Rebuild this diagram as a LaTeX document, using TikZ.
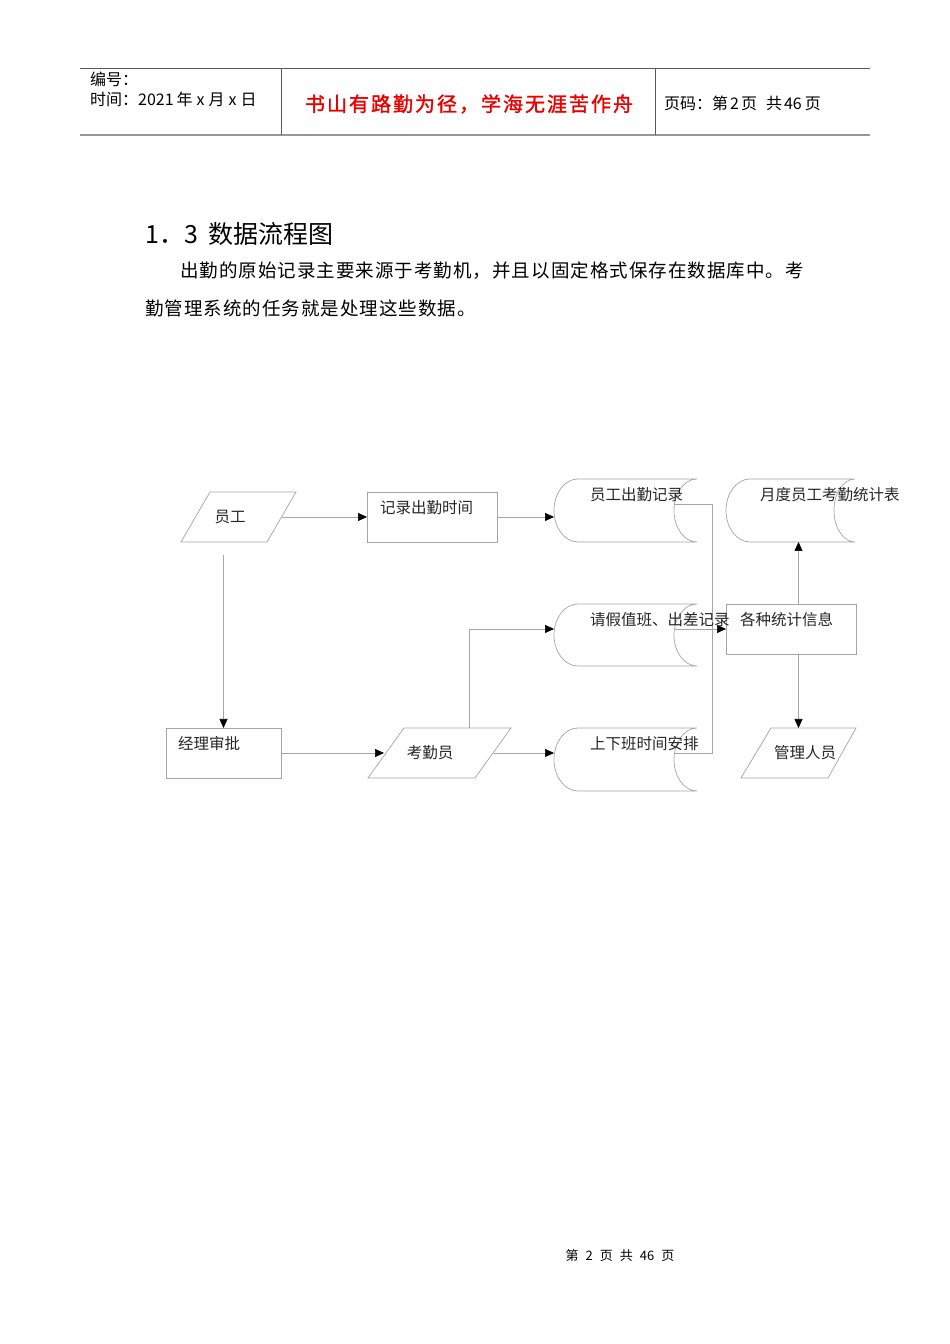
\documentclass[tikz,border=0pt]{standalone}
\usepackage{fontspec}
\setmainfont{Noto Sans CJK SC}
\newfontfamily\cjkls[LetterSpace=5.5]{Noto Sans CJK SC}
\newfontfamily\cjkred[LetterSpace=10,FakeBold=1.5]{Noto Sans CJK SC}
\usetikzlibrary{arrows.meta,calc}
\definecolor{lin}{RGB}{165,165,165}
\definecolor{hdr}{RGB}{90,90,90}
\definecolor{hdrb}{RGB}{150,150,150}
\definecolor{redtxt}{RGB}{235,0,0}
\begin{document}
\begin{tikzpicture}[x=1pt,y=1pt,
  frame/.style={draw=none,inner sep=0pt,outer sep=0pt},
  shp/.style={draw=lin,line width=0.7pt},
  conn/.style={draw=lin,line width=0.7pt},
  arr/.style={conn,-{Triangle[length=9pt,width=8pt,color=black]}},
  lbl/.style={inner sep=0pt,font=\fontsize{15.5}{18}\selectfont,text=black!85},
  htxt/.style={inner sep=0pt,anchor=west,font=\fontsize{16}{19}\selectfont},
]
\useasboundingbox (0,0) rectangle (950,1344);
\fill[white] (0,0) rectangle (950,1344);

% ---------- header ----------
\draw[hdr,line width=0.8pt] (80,1276) -- (870,1276);
\draw[hdrb,line width=2pt] (80,1209) -- (870,1209);
\draw[hdr,line width=0.8pt] (281,1276) -- (281,1209);
\draw[hdr,line width=0.8pt] (655,1276) -- (655,1209);
\node[htxt] (h1) at (90,1265) {编号：};
\node[htxt] (h2) at (90,1245) {时间：2021\hspace{3pt}年\hspace{4pt}x\hspace{4pt}月\hspace{4pt}x\hspace{4pt}日};
\node[inner sep=0pt,font={\cjkred\fontsize{20}{24}\selectfont},text=redtxt] (h3) at (469,1240) {书山有路勤为径，学海无涯苦作舟};
\node[htxt] (h4) at (664,1241) {页码：第\hspace{2pt}2\hspace{2pt}页\hspace{9pt}共\hspace{2pt}46\hspace{3pt}页};

% ---------- title and paragraph ----------
\node[inner sep=0pt,anchor=west,font=\fontsize{25}{29}\selectfont] (ttl) at (145,1110) {1．3\hspace{11pt}数据流程图};
\node[inner sep=0pt,anchor=west,font={\cjkls\fontsize{18.5}{21}\selectfont}] (p1) at (180,1073) {出勤的原始记录主要来源于考勤机，并且以固定格式保存在数据库中。考};
\node[inner sep=0pt,anchor=west,font={\cjkls\fontsize{18.5}{21}\selectfont}] (p2) at (145,1036) {勤管理系统的任务就是处理这些数据。};

% ---------- diagram frames ----------
\node[frame,minimum width=115pt,minimum height=50pt] (emp) at (238.5,827) {};
\node[frame,minimum width=130pt,minimum height=50pt] (rec) at (432,827) {};
\node[frame,minimum width=143pt,minimum height=63pt] (s1) at (625.5,833.5) {};
\node[frame,minimum width=129pt,minimum height=63pt] (s4) at (790.5,833.5) {};
\node[frame,minimum width=143pt,minimum height=62pt] (s2) at (625.5,709) {};
\node[frame,minimum width=130pt,minimum height=50pt] (stat) at (791,715) {};
\node[frame,minimum width=115pt,minimum height=50pt] (mgr) at (223.5,591) {};
\node[frame,minimum width=143pt,minimum height=50pt] (kq) at (439.5,591) {};
\node[frame,minimum width=143pt,minimum height=63pt] (s3) at (625.5,584.5) {};
\node[frame,minimum width=115pt,minimum height=50pt] (gl) at (798.5,591) {};

% boxes
\draw[shp] (rec.south west) rectangle (rec.north east);
\draw[shp] (stat.south west) rectangle (stat.north east);
\draw[shp] (mgr.south west) rectangle (mgr.north east);
% parallelograms
\draw[shp] ([xshift=29pt]emp.north west) -- (emp.north east) -- ([xshift=-29pt]emp.south east) -- (emp.south west) -- cycle;
\draw[shp] ([xshift=36pt]kq.north west) -- (kq.north east) -- ([xshift=-36pt]kq.south east) -- (kq.south west) -- cycle;
\draw[shp] ([xshift=30pt]gl.north west) -- (gl.north east) -- ([xshift=-28pt]gl.south east) -- (gl.south west) -- cycle;
% data stores
\draw[shp] ([xshift=24pt]s1.north west) arc[start angle=90,end angle=270,x radius=24pt,y radius=31.5pt] -- (s1.south east) arc[start angle=270,end angle=90,x radius=23pt,y radius=31.5pt] -- cycle;
\draw[shp] ([xshift=24pt]s2.north west) arc[start angle=90,end angle=270,x radius=24pt,y radius=31pt] -- (s2.south east) arc[start angle=270,end angle=90,x radius=23pt,y radius=31pt] -- cycle;
\draw[shp] ([xshift=24pt]s3.north west) arc[start angle=90,end angle=270,x radius=24pt,y radius=31.5pt] -- (s3.south east) arc[start angle=270,end angle=90,x radius=23pt,y radius=31.5pt] -- cycle;
\draw[shp] ([xshift=24pt]s4.north west) arc[start angle=90,end angle=270,x radius=24pt,y radius=31.5pt] -- (s4.south east) arc[start angle=270,end angle=90,x radius=21pt,y radius=31.5pt] -- cycle;

% ---------- connectors ----------
\coordinate (s1o) at ($(s1.east)+(-22.5,6.5)$);
\coordinate (s2o) at ($(s2.east)+(-22.5,6)$);
\coordinate (s3o) at ($(s3.east)+(-22.5,6.5)$);
\coordinate (busT) at (712,840);
\coordinate (busB) at (712,591);
\coordinate (empd) at ($(emp.south -| mgr.north)+(0,-13)$);

\draw[arr] ([xshift=-14pt]emp.east) -- (rec.west);
\draw[arr] (rec.east) -- (rec.east -| s1.west);
\draw[arr] (empd) -- (mgr.north);
\draw[arr] (mgr.east) -- ([xshift=16pt]kq.west);
\draw[arr] ([xshift=-17pt]kq.east) -- (kq.east -| s3.west);
\draw[arr] ([xshift=30pt]kq.north) |- ($(s2.west)+(0,6)$);
\draw[conn] (s1o) -- (busT) -- (busB) -- (s3o);
\draw[arr] (s2o) -- (s2o -| stat.west);
\draw[arr] (stat.north -| gl.north) -- (s4.south -| gl.north);
\draw[arr] (stat.south -| gl.north) -- (gl.north);

% ---------- labels ----------
\node[lbl] (t10) at (230,827) {员工};
\node[lbl,anchor=west] (t6) at (380,836) {记录出勤时间};
\node[lbl,anchor=west] (t1) at (590,849) {员工出勤记录};
\node[lbl,anchor=west] (t4) at (760,849) {月度员工考勤统计表};
\node[lbl,anchor=west] (t2) at (590,724) {请假值班、出差记录};
\node[lbl,anchor=west] (t5) at (740,724) {各种统计信息};
\node[lbl,anchor=west] (t7) at (178,600) {经理审批};
\node[lbl] (t8) at (430,591) {考勤员};
\node[lbl,anchor=west] (t3) at (590,600) {上下班时间安排};
\node[lbl] (t9) at (805,591) {管理人员};

% ---------- footer ----------
\node[inner sep=0pt,font=\fontsize{13}{15}\selectfont] (ft) at (620,88) {第\hspace{7pt}2\hspace{7pt}页\hspace{7pt}共\hspace{7pt}46\hspace{7pt}页};
\end{tikzpicture}
\end{document}
